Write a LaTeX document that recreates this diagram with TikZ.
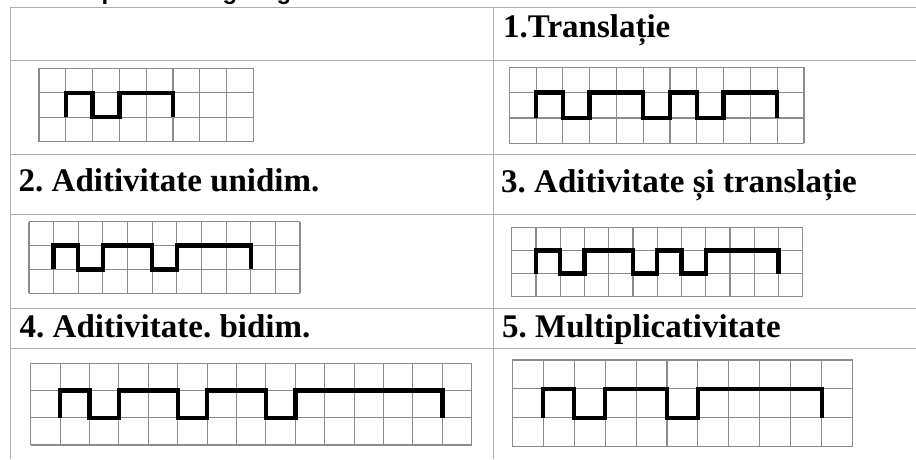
\documentclass[tikz,border=0pt]{standalone}
\usepackage{fontspec}
\setmainfont{Liberation Serif}
\newfontfamily\capfont{Liberation Sans}
\frenchspacing

% one squared grid of 3 rows with a thick rectangular wave drawn over it
% #1,#2 top-left corner, #3,#4 cell width/height, #5 columns, #6 wave path (grid units)
\newcommand\squaregrid[6]{%
  \begin{scope}[shift={(#1,#2)}, x=#3pt, y=-#4pt]
    \foreach \i in {0,...,#5} \draw[gridline] (\i,0) -- (\i,3);
    \foreach \j in {0,...,3} \draw[gridline] (0,\j) -- (#5,\j);
    \draw[wave] #6;
  \end{scope}}

\begin{document}
\begin{tikzpicture}[x=1pt, y=-1pt,
  rule/.style={draw=black!32, line width=1pt},
  gridline/.style={draw=black!45, line width=1.1pt},
  wave/.style={draw=black, line width=4.4pt, line join=miter},
  heading/.style={anchor=base west, inner sep=0pt,
    font=\fontsize{33}{36}\selectfont\bfseries},
  cut/.style={anchor=base west, inner sep=0pt,
    font=\capfont\bfseries\fontsize{24}{28}\selectfont}]

  \fill[white] (0,0) rectangle (916,459);
  \useasboundingbox (0,0) rectangle (916,459);

  % descenders of the caption line running off the top edge
  \begin{scope}
    \clip (0,0) rectangle (916,6.5);
    \node[cut] (capa) at (101.5,-1) {p};
    \node[cut] (capb) at (222.5,-1) {g};
    \node[cut] (capc) at (276.5,-1) {g};
  \end{scope}

  % table rules
  \foreach \y in {7,60,154,214,308,348}
    \draw[rule] (10.5,\y) -- (916,\y);
  \draw[rule] (10.5,7) -- (10.5,459);
  \draw[rule] (493,7) -- (493,459);

  % headings
  \node[heading] (h1) at (503,37.5) {1.Translație};
  \node[heading] (h2) at (18.5,191) {2. Aditivitate unidim.};
  \node[heading] (h3) at (501,192) {3. Aditivitate și translație};
  \node[heading] (h4) at (19.5,337.5) {4. Aditivitate. bidim.};
  \node[heading] (h5) at (502,337.5) {5. Multiplicativitate};

  % base pattern
  \squaregrid{39}{68.3}{26.8}{24.45}{8}
    {(1,2) -- (1,1) -- (2,1) -- (2,2) -- (3,2) -- (3,1) -- (5,1) -- (5,2)}

  % 1. translation
  \squaregrid{509.3}{67.3}{26.79}{25.33}{11}
    {(1,2) -- (1,1) -- (2,1) -- (2,2) -- (3,2) -- (3,1) -- (5,1) -- (5,2)
     -- (6,2) -- (6,1) -- (7,1) -- (7,2) -- (8,2) -- (8,1) -- (10,1) -- (10,2)}

  % 2. one-dimensional additivity
  \squaregrid{29}{221.7}{24.64}{23.87}{11}
    {(1,2) -- (1,1) -- (2,1) -- (2,2) -- (3,2) -- (3,1) -- (5,1) -- (5,2)
     -- (6,2) -- (6,1) -- (9,1) -- (9,2)}

  % 3. additivity and translation
  \squaregrid{511.7}{227.3}{24.25}{23.13}{12}
    {(1,2) -- (1,1) -- (2,1) -- (2,2) -- (3,2) -- (3,1) -- (5,1) -- (5,2)
     -- (6,2) -- (6,1) -- (7,1) -- (7,2) -- (8,2) -- (8,1) -- (11,1) -- (11,2)}

  % 4. two-dimensional additivity
  \squaregrid{30.7}{363.3}{29.4}{27.23}{15}
    {(1,2) -- (1,1) -- (2,1) -- (2,2) -- (3,2) -- (3,1) -- (5,1) -- (5,2)
     -- (6,2) -- (6,1) -- (8,1) -- (8,2) -- (9,2) -- (9,1) -- (14,1) -- (14,2)}

  % 5. multiplicativity
  \squaregrid{512.3}{360}{30.94}{28.9}{11}
    {(1,2) -- (1,1) -- (2,1) -- (2,2) -- (3,2) -- (3,1) -- (5,1) -- (5,2)
     -- (6,2) -- (6,1) -- (10,1) -- (10,2)}
\end{tikzpicture}
\end{document}
